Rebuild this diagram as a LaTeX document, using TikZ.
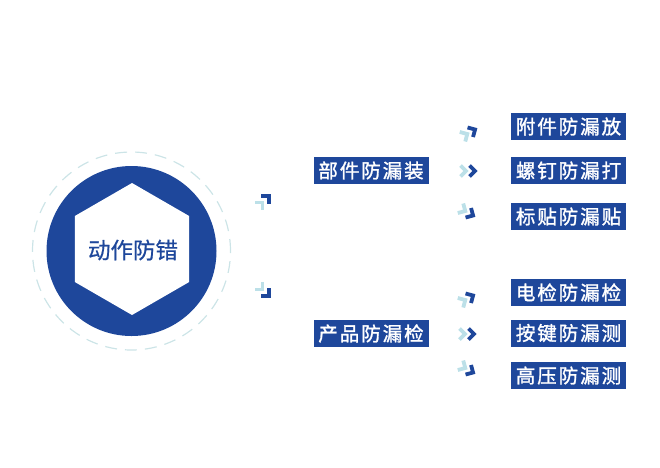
\documentclass[tikz,border=0pt]{standalone}
\usepackage{fontspec}
\newfontfamily\cjk[FakeBold=0.6]{Noto Sans CJK SC}
\newfontfamily\cjkbox[LetterSpace=10,FakeBold=1.4]{Noto Sans CJK SC}
\usetikzlibrary{shapes.geometric}
\definecolor{navy}{RGB}{30,71,155}
\definecolor{pale}{RGB}{188,224,232}
\definecolor{ringc}{RGB}{204,228,231}
\tikzset{
  box/.style={fill=navy, text=white, minimum width=115pt, minimum height=27pt,
    inner sep=0pt, font=\cjkbox\fontsize{19.5}{20}\selectfont},
  chev/.style={line width=3.8pt, miter limit=10},
  pics/dchev/.style={code={
    \draw[chev, pale] (-7.5,-5.5) -- (-2,0) -- (-7.5,5.5);
    \draw[chev, navy] (1.5,-5.5) -- (7,0) -- (1.5,5.5);
  }}
}
\begin{document}
\begin{tikzpicture}[x=1pt,y=-1pt]
\useasboundingbox (0,0) rectangle (660,467);
% central badge
\node[circle, draw=ringc, line width=1.2pt, dash pattern=on 12pt off 8pt,
      minimum size=198pt, inner sep=0pt] (ring) at (131.5,251) {};
\node[circle, fill=navy, minimum size=170pt, inner sep=0pt] (disc) at (131.5,251) {};
\node[regular polygon, regular polygon sides=6, regular polygon rotate=30,
      fill=white, minimum size=132pt, inner sep=0pt] (hex) at (132,249) {};
\node[text=navy, font=\cjk\fontsize{22.5}{24}\selectfont] (title) at (133,250) {动作防错};
% left arrows
\pic[rotate=45] (la1) at (264,201) {dchev};
\pic[rotate=-45] (la2) at (264,291) {dchev};
% middle boxes
\node[box] (b1) at (371,170.5) {部件防漏装};
\node[box] (b2) at (371,333.5) {产品防漏检};
% right arrows, upper group
\pic[rotate=30] (ra1) at (469,133) {dchev};
\pic (ra2) at (468,171) {dchev};
\pic[rotate=-30] (ra3) at (467,212) {dchev};
% right arrows, lower group
\pic[rotate=30] (ra4) at (467,299) {dchev};
\pic (ra5) at (467,334) {dchev};
\pic[rotate=-30] (ra6) at (467,369) {dchev};
% right boxes
\node[box] (c1) at (568.5,126.5) {附件防漏放};
\node[box] (c2) at (568.5,170.5) {螺钉防漏打};
\node[box] (c3) at (568.5,216.5) {标贴防漏贴};
\node[box] (c4) at (568.5,292.5) {电检防漏检};
\node[box] (c5) at (568.5,333) {按键防漏测};
\node[box] (c6) at (568.5,375.5) {高压防漏测};
\end{tikzpicture}
\end{document}
